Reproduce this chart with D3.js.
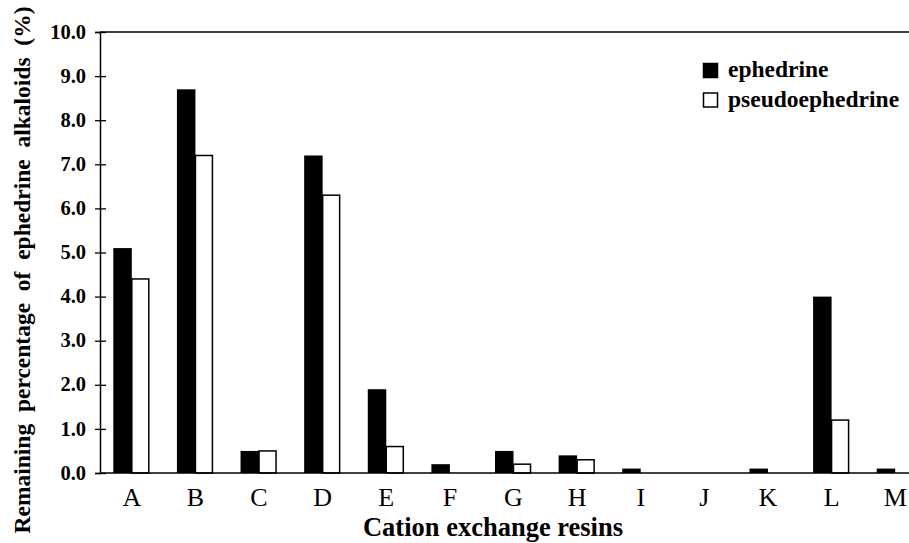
<!DOCTYPE html>
<html>
<head>
<meta charset="utf-8">
<script src="https://cdn.jsdelivr.net/npm/d3@7"></script>
<style>
body { margin: 0; background: #fff; }
text { font-family: "Liberation Serif", "Times New Roman", serif; }
</style>
</head>
<body>
<div id="chart"></div>
<script>
var resins = ["A", "B", "C", "D", "E", "F", "G", "H", "I", "J", "K", "L", "M"];
var ephedrine = [5.1, 8.7, 0.5, 7.2, 1.9, 0.2, 0.5, 0.4, 0.1, 0, 0.1, 4.0, 0.1];
var pseudoephedrine = [4.4, 7.2, 0.5, 6.3, 0.6, 0, 0.2, 0.3, 0, 0, 0, 1.2, 0];
var yTicks = [0, 1, 2, 3, 4, 5, 6, 7, 8, 9, 10];
var seriesNames = ["ephedrine", "pseudoephedrine"];

var W = 909, H = 543;

var svg = d3.select("#chart").append("svg")
    .attr("width", W).attr("height", H);

var x = d3.scaleBand().domain(resins).range([100, 927]);
var y = d3.scaleLinear().domain([0, 10]).range([473, 32]);
var bw = 18.5;

// top border
svg.append("line")
    .attr("x1", 100).attr("x2", W)
    .attr("y1", y(10)).attr("y2", y(10))
    .attr("stroke", "#000").attr("stroke-width", 1.5);

// bars
var rows = resins.map(function(r, i) { return {r: r, e: ephedrine[i], p: pseudoephedrine[i]}; });

svg.selectAll(".eph").data(rows).enter().append("rect")
    .attr("x", function(d) { return x(d.r) + x.bandwidth() / 2 - bw; })
    .attr("y", function(d) { return y(d.e); })
    .attr("width", bw)
    .attr("height", function(d) { return y(0) - y(d.e); })
    .attr("fill", "#000");

svg.selectAll(".pse").data(rows.filter(function(d) { return d.p > 0; })).enter().append("rect")
    .attr("x", function(d) { return x(d.r) + x.bandwidth() / 2; })
    .attr("y", function(d) { return y(d.p); })
    .attr("width", bw - 1.5)
    .attr("height", function(d) { return y(0) - y(d.p); })
    .attr("fill", "#fff")
    .attr("stroke", "#000").attr("stroke-width", 1.5);

// y axis
var yAxis = svg.append("g")
    .attr("transform", "translate(100,0)")
    .call(d3.axisLeft(y).tickValues(yTicks).tickSize(5).tickFormat(d3.format(".1f")));
yAxis.selectAll(".tick line").attr("x1", -5).attr("x2", 6).attr("stroke-width", 1.3);
yAxis.select(".domain").attr("stroke-width", 1.5);
yAxis.selectAll("text")
    .attr("x", -14)
    .attr("dy", "0.3em")
    .style("font-size", "20.5px").style("font-weight", "bold")
    .style("font-family", "'Liberation Serif', serif");

// x axis
var xAxis = svg.append("g")
    .attr("transform", "translate(0," + y(0) + ")")
    .call(d3.axisBottom(x).tickSize(0));
xAxis.select(".domain").attr("d", "M100,0H" + W).attr("stroke-width", 1.5);
xAxis.selectAll("text")
    .attr("y", 33).attr("dy", 0)
    .style("font-size", "26px")
    .style("font-family", "'Liberation Serif', serif");

// axis titles
svg.append("text")
    .attr("x", 493).attr("y", 536)
    .attr("text-anchor", "middle")
    .style("font-size", "26.5px").style("font-weight", "bold")
    .text("Cation exchange resins");

svg.append("text")
    .attr("transform", "translate(30,270) rotate(-90)")
    .attr("text-anchor", "middle")
    .style("white-space", "pre")
    .style("font-size", "23.5px").style("font-weight", "bold")
    .text("Remaining  percentage  of  ephedrine  alkaloids  (%)");

// legend
var leg = svg.append("g").attr("transform", "translate(703,63)");
seriesNames.forEach(function(name, i) {
    leg.append("rect")
        .attr("x", 0.5).attr("y", i * 29.5 + 0.5)
        .attr("width", 14).attr("height", 14)
        .attr("fill", i === 0 ? "#000" : "#fff")
        .attr("stroke", "#000").attr("stroke-width", 1.5);
    leg.append("text")
        .attr("x", 25).attr("y", i * 29.5 + 14)
        .style("font-size", "23.5px").style("font-weight", "bold")
        .text(name);
});
</script>
</body>
</html>
